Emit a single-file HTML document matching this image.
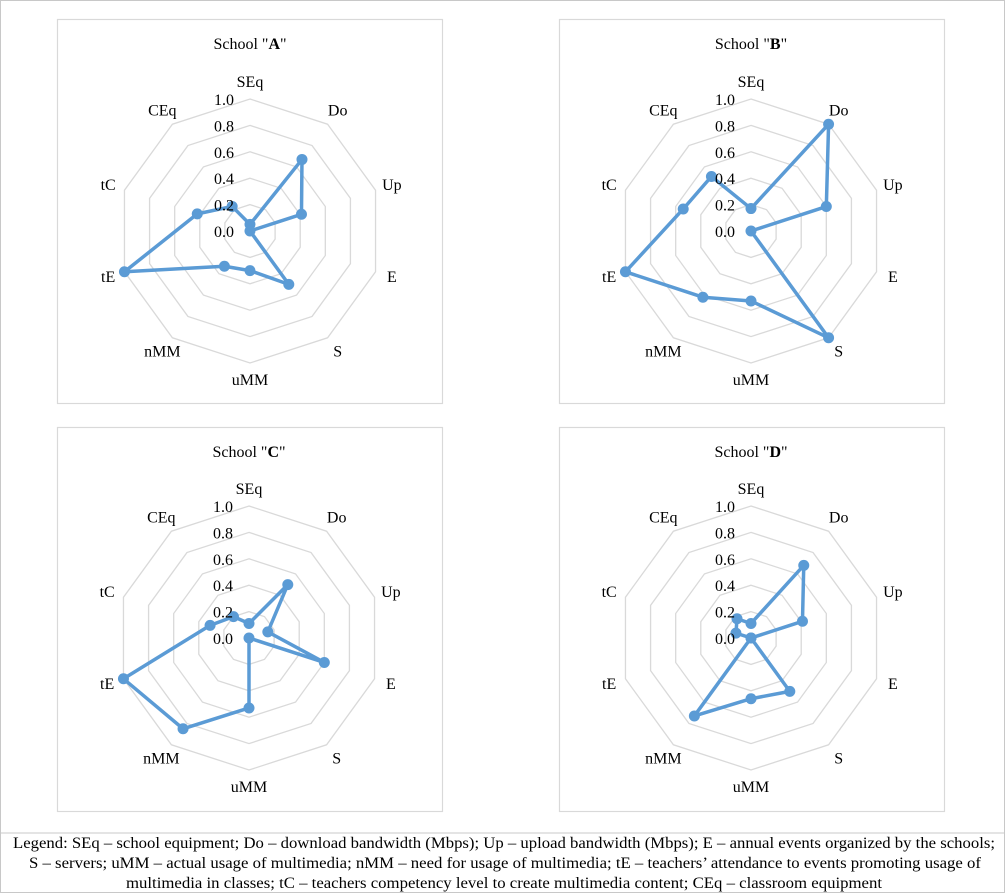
<!DOCTYPE html>
<html><head><meta charset="utf-8"><style>
body{margin:0;background:#fff}
svg{display:block;font-family:"Liberation Serif",serif}
</style></head><body>
<svg id="root" width="1005" height="893" viewBox="0 0 1005 893">
<rect x="0.5" y="0.5" width="1004" height="892" fill="#fff" stroke="#c8c8c8"/>
<line x1="0" y1="833" x2="1005" y2="833" stroke="#c8c8c8"/>
<g id="charts"></g>
<g font-size="15.5" fill="#000" text-anchor="middle">
<text x="504" y="848" textLength="982" lengthAdjust="spacingAndGlyphs">Legend: SEq – school equipment; Do – download bandwidth (Mbps); Up – upload bandwidth (Mbps); E – annual events organized by the schools;</text>
<text x="505" y="868" textLength="952" lengthAdjust="spacingAndGlyphs">S – servers; uMM – actual usage of multimedia; nMM – need for usage of multimedia; tE – teachers’ attendance to events promoting usage of</text>
<text x="504" y="888" textLength="756" lengthAdjust="spacingAndGlyphs">multimedia in classes; tC – teachers competency level to create multimedia content; CEq – classroom equipment</text>
</g>
</svg>
<script>
const categories = ["SEq","Do","Up","E","S","uMM","nMM","tE","tC","CEq"];
const schools = ["A","B","C","D"];
const valuesA = [0.05,0.67,0.41,0.0,0.50,0.30,0.33,1.0,0.42,0.23];
const valuesB = [0.17,1.0,0.60,0.0,1.0,0.53,0.62,1.0,0.54,0.51];
const valuesC = [0.11,0.50,0.15,0.60,0.0,0.53,0.85,1.0,0.31,0.20];
const valuesD = [0.11,0.68,0.41,0.0,0.50,0.46,0.73,0.0,0.12,0.18];
const tickLabels = ["0.0","0.2","0.4","0.6","0.8","1.0"];
const tickValues = [0,0.2,0.4,0.6,0.8,1.0];

const NS="http://www.w3.org/2000/svg";
const root=document.getElementById('charts');
const panels=[
 {x:57,y:19,cx:250,cy:231,vals:valuesA},
 {x:559,y:19,cx:751,cy:231,vals:valuesB},
 {x:57,y:427,cx:249,cy:638,vals:valuesC},
 {x:559,y:427,cx:751,cy:638,vals:valuesD}
];
const R=132;
function mk(tag,attrs,parent){const e=document.createElementNS(NS,tag);for(const k in attrs)e.setAttribute(k,attrs[k]);parent.appendChild(e);return e;}
function pt(p,i,v){const a=i*2*Math.PI/categories.length;return [p.cx+Math.sin(a)*R*v,p.cy-Math.cos(a)*R*v];}
panels.forEach((p,si)=>{
 const g=mk('g',{},root);
 
 
 const box=mk('rect',{x:p.x+0.5,y:p.y+0.5,width:385,height:384,fill:'#fff',stroke:'#d9d9d9','stroke-width':1.2},g);
 
 
 const t=mk('text',{x:p.cx,y:p.y+30,'text-anchor':'middle','font-size':16},g);
 
 
 t.appendChild(document.createTextNode('School "'));
 const b=mk('tspan',{'font-weight':'bold'},t);b.textContent=schools[si];
 t.appendChild(document.createTextNode('"'));
 tickValues.forEach((tv,k)=>{
  if(tv>0){
   const pts=categories.map((c,i)=>pt(p,i,tv).join(',')).join(' ');
   const ring=mk('polygon',{points:pts,fill:'none',stroke:'#d9d9d9','stroke-width':1.3},g);
   
   
  }
 });
 categories.forEach((c,i)=>{
  const [x,y]=pt(p,i,1.13);
  const l=mk('text',{x:x,y:y+5,'text-anchor':'middle','font-size':16},g);
  
  
  l.textContent=c;
 });
 const pts=p.vals.map((v,i)=>pt(p,i,v));
 const line=mk('polygon',{points:pts.map(q=>q.join(',')).join(' '),fill:'none',stroke:'#5b9bd5','stroke-width':3.5,'stroke-linejoin':'round'},g);
 
 
 pts.forEach(q=>{
  const m=mk('circle',{cx:q[0],cy:q[1],r:5.5,fill:'#5b9bd5'},g);
  
  
 });
 tickValues.forEach((tv,k)=>{
  const tl=mk('text',{x:p.cx-16,y:p.cy-R*tv+6,'text-anchor':'end','font-size':16},g);
  
  
  tl.textContent=tickLabels[k];
 });
});
</script>
</body></html>
